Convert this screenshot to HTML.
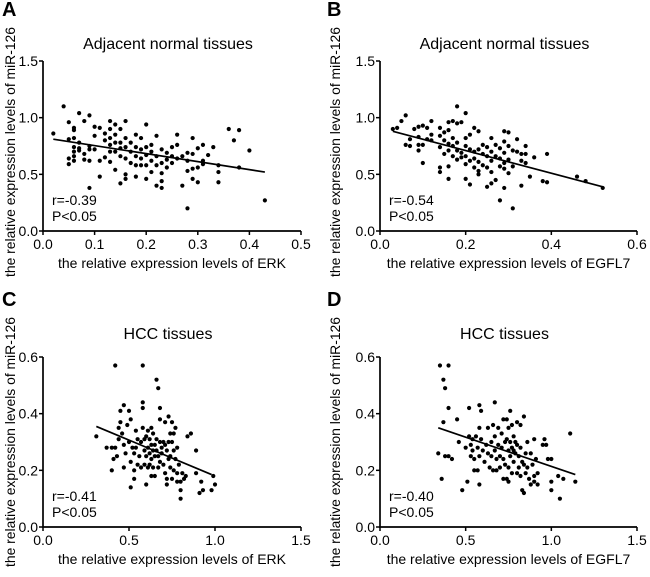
<!DOCTYPE html>
<html><head><meta charset="utf-8"><style>
body{margin:0;background:#fff}
svg{display:block;font-family:"Liberation Sans",Arial,sans-serif}
</style></head><body>
<svg id="fig" width="650" height="577"></svg>
<script>
const NS="http://www.w3.org/2000/svg";
const xA=[0.02,0.04,0.05,0.05,0.05,0.05,0.06,0.06,0.06,0.06,0.06,0.06,0.06,0.07,0.07,0.07,0.07,0.08,0.08,0.08,0.09,0.09,0.09,0.09,0.09,0.10,0.10,0.10,0.11,0.11,0.11,0.12,0.12,0.12,0.13,0.13,0.13,0.13,0.13,0.13,0.14,0.14,0.14,0.14,0.14,0.15,0.15,0.15,0.15,0.15,0.16,0.16,0.16,0.16,0.16,0.16,0.17,0.17,0.17,0.18,0.18,0.18,0.18,0.18,0.19,0.19,0.19,0.19,0.20,0.20,0.20,0.20,0.20,0.21,0.21,0.21,0.21,0.22,0.22,0.22,0.22,0.23,0.23,0.23,0.23,0.23,0.24,0.24,0.24,0.25,0.25,0.25,0.26,0.26,0.26,0.27,0.27,0.28,0.28,0.28,0.28,0.29,0.29,0.29,0.29,0.30,0.30,0.30,0.31,0.31,0.31,0.32,0.33,0.34,0.34,0.34,0.36,0.37,0.38,0.38,0.40,0.43];
const yA=[0.86,1.10,0.96,0.81,0.64,0.59,0.91,0.89,0.82,0.74,0.70,0.66,0.62,1.04,0.78,0.73,0.71,0.97,0.68,0.63,1.02,0.75,0.72,0.62,0.38,0.92,0.84,0.72,0.91,0.62,0.48,0.86,0.80,0.65,0.97,0.90,0.82,0.76,0.70,0.61,0.94,0.85,0.78,0.70,0.54,0.90,0.78,0.73,0.66,0.42,0.97,0.82,0.74,0.64,0.50,0.46,0.78,0.70,0.60,0.85,0.74,0.66,0.58,0.48,0.82,0.72,0.64,0.58,0.94,0.74,0.67,0.58,0.46,0.76,0.70,0.62,0.52,0.84,0.66,0.58,0.40,0.72,0.60,0.51,0.44,0.38,0.69,0.63,0.56,0.74,0.66,0.60,0.85,0.76,0.64,0.66,0.40,0.69,0.62,0.53,0.20,0.82,0.68,0.55,0.46,0.73,0.56,0.43,0.76,0.62,0.59,0.67,0.74,0.58,0.52,0.43,0.90,0.80,0.89,0.56,0.71,0.27];
const lineAx=[0.02,0.43], lineAy=[0.81,0.52];
const xB=[0.03,0.04,0.05,0.06,0.06,0.07,0.07,0.08,0.09,0.09,0.09,0.09,0.10,0.10,0.10,0.11,0.11,0.12,0.12,0.12,0.14,0.14,0.14,0.14,0.14,0.15,0.15,0.15,0.16,0.16,0.16,0.16,0.16,0.16,0.17,0.17,0.17,0.17,0.18,0.18,0.18,0.18,0.18,0.19,0.19,0.19,0.20,0.20,0.20,0.20,0.20,0.20,0.21,0.21,0.21,0.21,0.22,0.22,0.22,0.22,0.23,0.23,0.23,0.23,0.23,0.24,0.24,0.24,0.25,0.25,0.25,0.25,0.26,0.26,0.26,0.26,0.26,0.27,0.27,0.27,0.28,0.28,0.28,0.28,0.29,0.29,0.29,0.29,0.29,0.29,0.30,0.30,0.30,0.30,0.31,0.31,0.31,0.32,0.32,0.33,0.33,0.33,0.34,0.34,0.34,0.35,0.36,0.38,0.39,0.39,0.46,0.48,0.52];
const yB=[0.90,0.91,0.97,1.02,0.76,0.81,0.75,0.90,0.92,0.83,0.76,0.71,0.93,0.76,0.60,0.91,0.81,0.97,0.85,0.80,0.91,0.84,0.74,0.56,0.52,0.87,0.80,0.68,0.96,0.89,0.77,0.71,0.57,0.46,0.97,0.82,0.75,0.66,1.10,0.95,0.78,0.71,0.63,0.96,0.69,0.65,1.04,0.82,0.75,0.66,0.59,0.46,0.85,0.72,0.62,0.41,0.91,0.70,0.64,0.56,0.88,0.72,0.61,0.53,0.50,0.76,0.68,0.58,0.74,0.66,0.56,0.39,0.82,0.70,0.62,0.52,0.42,0.76,0.66,0.45,0.73,0.64,0.57,0.27,0.88,0.79,0.69,0.60,0.55,0.38,0.87,0.75,0.63,0.51,0.71,0.57,0.20,0.81,0.70,0.68,0.62,0.40,0.75,0.68,0.60,0.48,0.65,0.44,0.68,0.43,0.48,0.44,0.38];
const lineBx=[0.03,0.52], lineBy=[0.88,0.39];
const xC=[0.31,0.37,0.40,0.40,0.41,0.42,0.42,0.43,0.44,0.44,0.45,0.45,0.46,0.47,0.47,0.47,0.48,0.49,0.50,0.50,0.51,0.51,0.51,0.52,0.53,0.53,0.53,0.54,0.54,0.55,0.55,0.56,0.57,0.57,0.58,0.58,0.58,0.58,0.59,0.59,0.59,0.60,0.60,0.60,0.61,0.61,0.61,0.62,0.62,0.62,0.63,0.63,0.63,0.63,0.64,0.64,0.64,0.65,0.65,0.65,0.66,0.66,0.66,0.67,0.67,0.67,0.68,0.68,0.68,0.68,0.69,0.69,0.70,0.70,0.71,0.71,0.71,0.72,0.72,0.72,0.73,0.73,0.73,0.74,0.74,0.74,0.75,0.75,0.75,0.76,0.76,0.76,0.77,0.77,0.78,0.78,0.78,0.79,0.80,0.80,0.80,0.81,0.82,0.83,0.84,0.86,0.89,0.89,0.91,0.92,0.93,0.98,0.99,1.00];
const yC=[0.32,0.28,0.28,0.20,0.24,0.57,0.28,0.25,0.35,0.31,0.41,0.37,0.33,0.43,0.29,0.21,0.26,0.36,0.41,0.30,0.38,0.23,0.14,0.28,0.26,0.20,0.17,0.34,0.28,0.31,0.22,0.25,0.30,0.21,0.57,0.44,0.42,0.35,0.31,0.27,0.22,0.32,0.25,0.15,0.34,0.28,0.21,0.31,0.26,0.22,0.35,0.29,0.24,0.18,0.33,0.27,0.21,0.29,0.25,0.18,0.52,0.31,0.27,0.49,0.25,0.21,0.42,0.38,0.30,0.23,0.28,0.26,0.30,0.22,0.37,0.29,0.19,0.27,0.17,0.15,0.39,0.30,0.24,0.33,0.25,0.21,0.37,0.30,0.17,0.33,0.27,0.20,0.35,0.24,0.28,0.19,0.16,0.22,0.16,0.13,0.10,0.19,0.17,0.18,0.32,0.33,0.19,0.27,0.12,0.16,0.13,0.13,0.18,0.15];
const lineCx=[0.31,0.98], lineCy=[0.355,0.185];
const xD=[0.34,0.35,0.36,0.37,0.37,0.38,0.38,0.40,0.40,0.40,0.42,0.45,0.46,0.48,0.50,0.51,0.52,0.52,0.53,0.53,0.54,0.54,0.55,0.55,0.56,0.57,0.57,0.58,0.58,0.58,0.58,0.59,0.59,0.60,0.61,0.62,0.63,0.63,0.64,0.65,0.65,0.66,0.66,0.67,0.67,0.67,0.68,0.68,0.69,0.69,0.70,0.70,0.71,0.71,0.72,0.72,0.72,0.73,0.73,0.74,0.74,0.74,0.75,0.75,0.75,0.75,0.76,0.76,0.76,0.77,0.77,0.77,0.78,0.78,0.78,0.79,0.79,0.80,0.80,0.80,0.81,0.81,0.82,0.82,0.82,0.83,0.83,0.84,0.84,0.84,0.85,0.85,0.86,0.86,0.87,0.88,0.88,0.89,0.90,0.90,0.90,0.91,0.92,0.92,0.95,0.96,0.97,0.98,1.00,1.00,1.00,1.04,1.05,1.07,1.11,1.14];
const yD=[0.26,0.57,0.17,0.52,0.37,0.49,0.25,0.25,0.57,0.42,0.24,0.38,0.30,0.13,0.28,0.16,0.42,0.32,0.29,0.25,0.31,0.27,0.24,0.20,0.32,0.28,0.20,0.43,0.35,0.25,0.15,0.41,0.31,0.27,0.23,0.29,0.35,0.26,0.21,0.30,0.25,0.36,0.20,0.44,0.32,0.27,0.24,0.20,0.35,0.29,0.25,0.21,0.33,0.28,0.38,0.24,0.17,0.30,0.22,0.38,0.31,0.17,0.35,0.27,0.21,0.16,0.41,0.30,0.25,0.36,0.28,0.19,0.32,0.27,0.23,0.30,0.26,0.37,0.29,0.19,0.25,0.21,0.36,0.28,0.18,0.23,0.13,0.39,0.22,0.12,0.26,0.19,0.30,0.21,0.17,0.26,0.15,0.22,0.31,0.18,0.16,0.24,0.19,0.15,0.29,0.31,0.29,0.24,0.24,0.16,0.13,0.18,0.10,0.17,0.33,0.16];
const lineDx=[0.34,1.14], lineDy=[0.35,0.185];
const ticksTopY=["0.0","0.5","1.0","1.5"], ticksBotY=["0.0","0.2","0.4","0.6"];
const ticksAX=["0.0","0.1","0.2","0.3","0.4","0.5"], ticksBX=["0.0","0.2","0.4","0.6"], ticksHX=["0.0","0.5","1.0","1.5"];

const svg=document.getElementById('fig');
function mk(tag,attrs,parent,text){const e=document.createElementNS(NS,tag);for(const k in attrs)e.setAttribute(k,attrs[k]);if(text!==undefined)e.textContent=text;(parent||svg).appendChild(e);return e;}

const panels=[
 {id:'a',letter:'A',x0:43,x1:301,y0:231,y1:61,xmax:0.5,ymax:1.5,xt:ticksAX,yt:ticksTopY,xs:xA,ys:yA,lx:lineAx,ly:lineAy,title:'Adjacent normal tissues',xl:'the relative expression levels of ERK',r:'r=-0.39',lox:0,loy:0},
 {id:'b',letter:'B',x0:380,x1:637,y0:231,y1:61,xmax:0.6,ymax:1.5,xt:ticksBX,yt:ticksTopY,xs:xB,ys:yB,lx:lineBx,ly:lineBy,title:'Adjacent normal tissues',xl:'the relative expression levels of EGFL7',r:'r=-0.54',lox:325,loy:0},
 {id:'c',letter:'C',x0:43,x1:301,y0:527,y1:357,xmax:1.5,ymax:0.6,xt:ticksHX,yt:ticksBotY,xs:xC,ys:yC,lx:lineCx,ly:lineCy,title:'HCC tissues',xl:'the relative expression levels of ERK',r:'r=-0.41',lox:0,loy:290},
 {id:'d',letter:'D',x0:380,x1:637,y0:527,y1:357,xmax:1.5,ymax:0.6,xt:ticksHX,yt:ticksBotY,xs:xD,ys:yD,lx:lineDx,ly:lineDy,title:'HCC tissues',xl:'the relative expression levels of EGFL7',r:'r=-0.40',lox:325,loy:290}
];
panels.forEach(p=>{
 const g=mk('g',{});
 
 
 const sx=v=>p.x0+v/p.xmax*(p.x1-p.x0);
 const sy=v=>p.y0-v/p.ymax*(p.y0-p.y1);
 const L=mk('text',{x:p.lox+2,y:p.loy+16,'font-size':20,'font-weight':'bold'},g,p.letter);
 
 const T=mk('text',{x:(p.x0+p.x1)/2-4,y:p.loy+49,'font-size':16,'text-anchor':'middle'},g,p.title);
 
 const yl=mk('text',{transform:`translate(${p.lox+15},${p.loy+152}) rotate(-90)`,'font-size':14,'text-anchor':'middle',textLength:250,lengthAdjust:'spacingAndGlyphs'},g,'the relative expression levels of miR-126');
 
 const xl=mk('text',{x:(p.x0+p.x1)/2,y:p.y0+37,'font-size':14,'text-anchor':'middle'},g,p.xl);
 
 const ax=mk('path',{d:`M${p.x0},${p.y1}V${p.y0}H${p.x1}`,fill:'none',stroke:'#000','stroke-width':1.7},g);
 
 p.yt.forEach(t=>{const y=sy(parseFloat(t));
  mk('line',{x1:p.x0-4,x2:p.x0,y1:y,y2:y,stroke:'#000','stroke-width':1.5},g);
  const e=mk('text',{x:p.x0-5,y:y+5,'font-size':14,'text-anchor':'end'},g,t);
  });
 p.xt.forEach(t=>{const x=sx(parseFloat(t));
  mk('line',{x1:x,x2:x,y1:p.y0,y2:p.y0+4,stroke:'#000','stroke-width':1.5},g);
  const e=mk('text',{x:x,y:p.y0+18,'font-size':14,'text-anchor':'middle'},g,t);
  });
 p.xs.forEach((v,i)=>{const c=mk('circle',{cx:sx(v),cy:sy(p.ys[i]),r:2.1,fill:'#000'},g);
  });
 const ln=mk('line',{x1:sx(p.lx[0]),y1:sy(p.ly[0]),x2:sx(p.lx[1]),y2:sy(p.ly[1]),stroke:'#000','stroke-width':1.7},g);
 
 const r=mk('text',{x:p.x0+9,y:p.y0-26,'font-size':14},g,p.r);
 
 const pv=mk('text',{x:p.x0+9,y:p.y0-10,'font-size':14},g,'P<0.05');
 
});
</script>
</body></html>
